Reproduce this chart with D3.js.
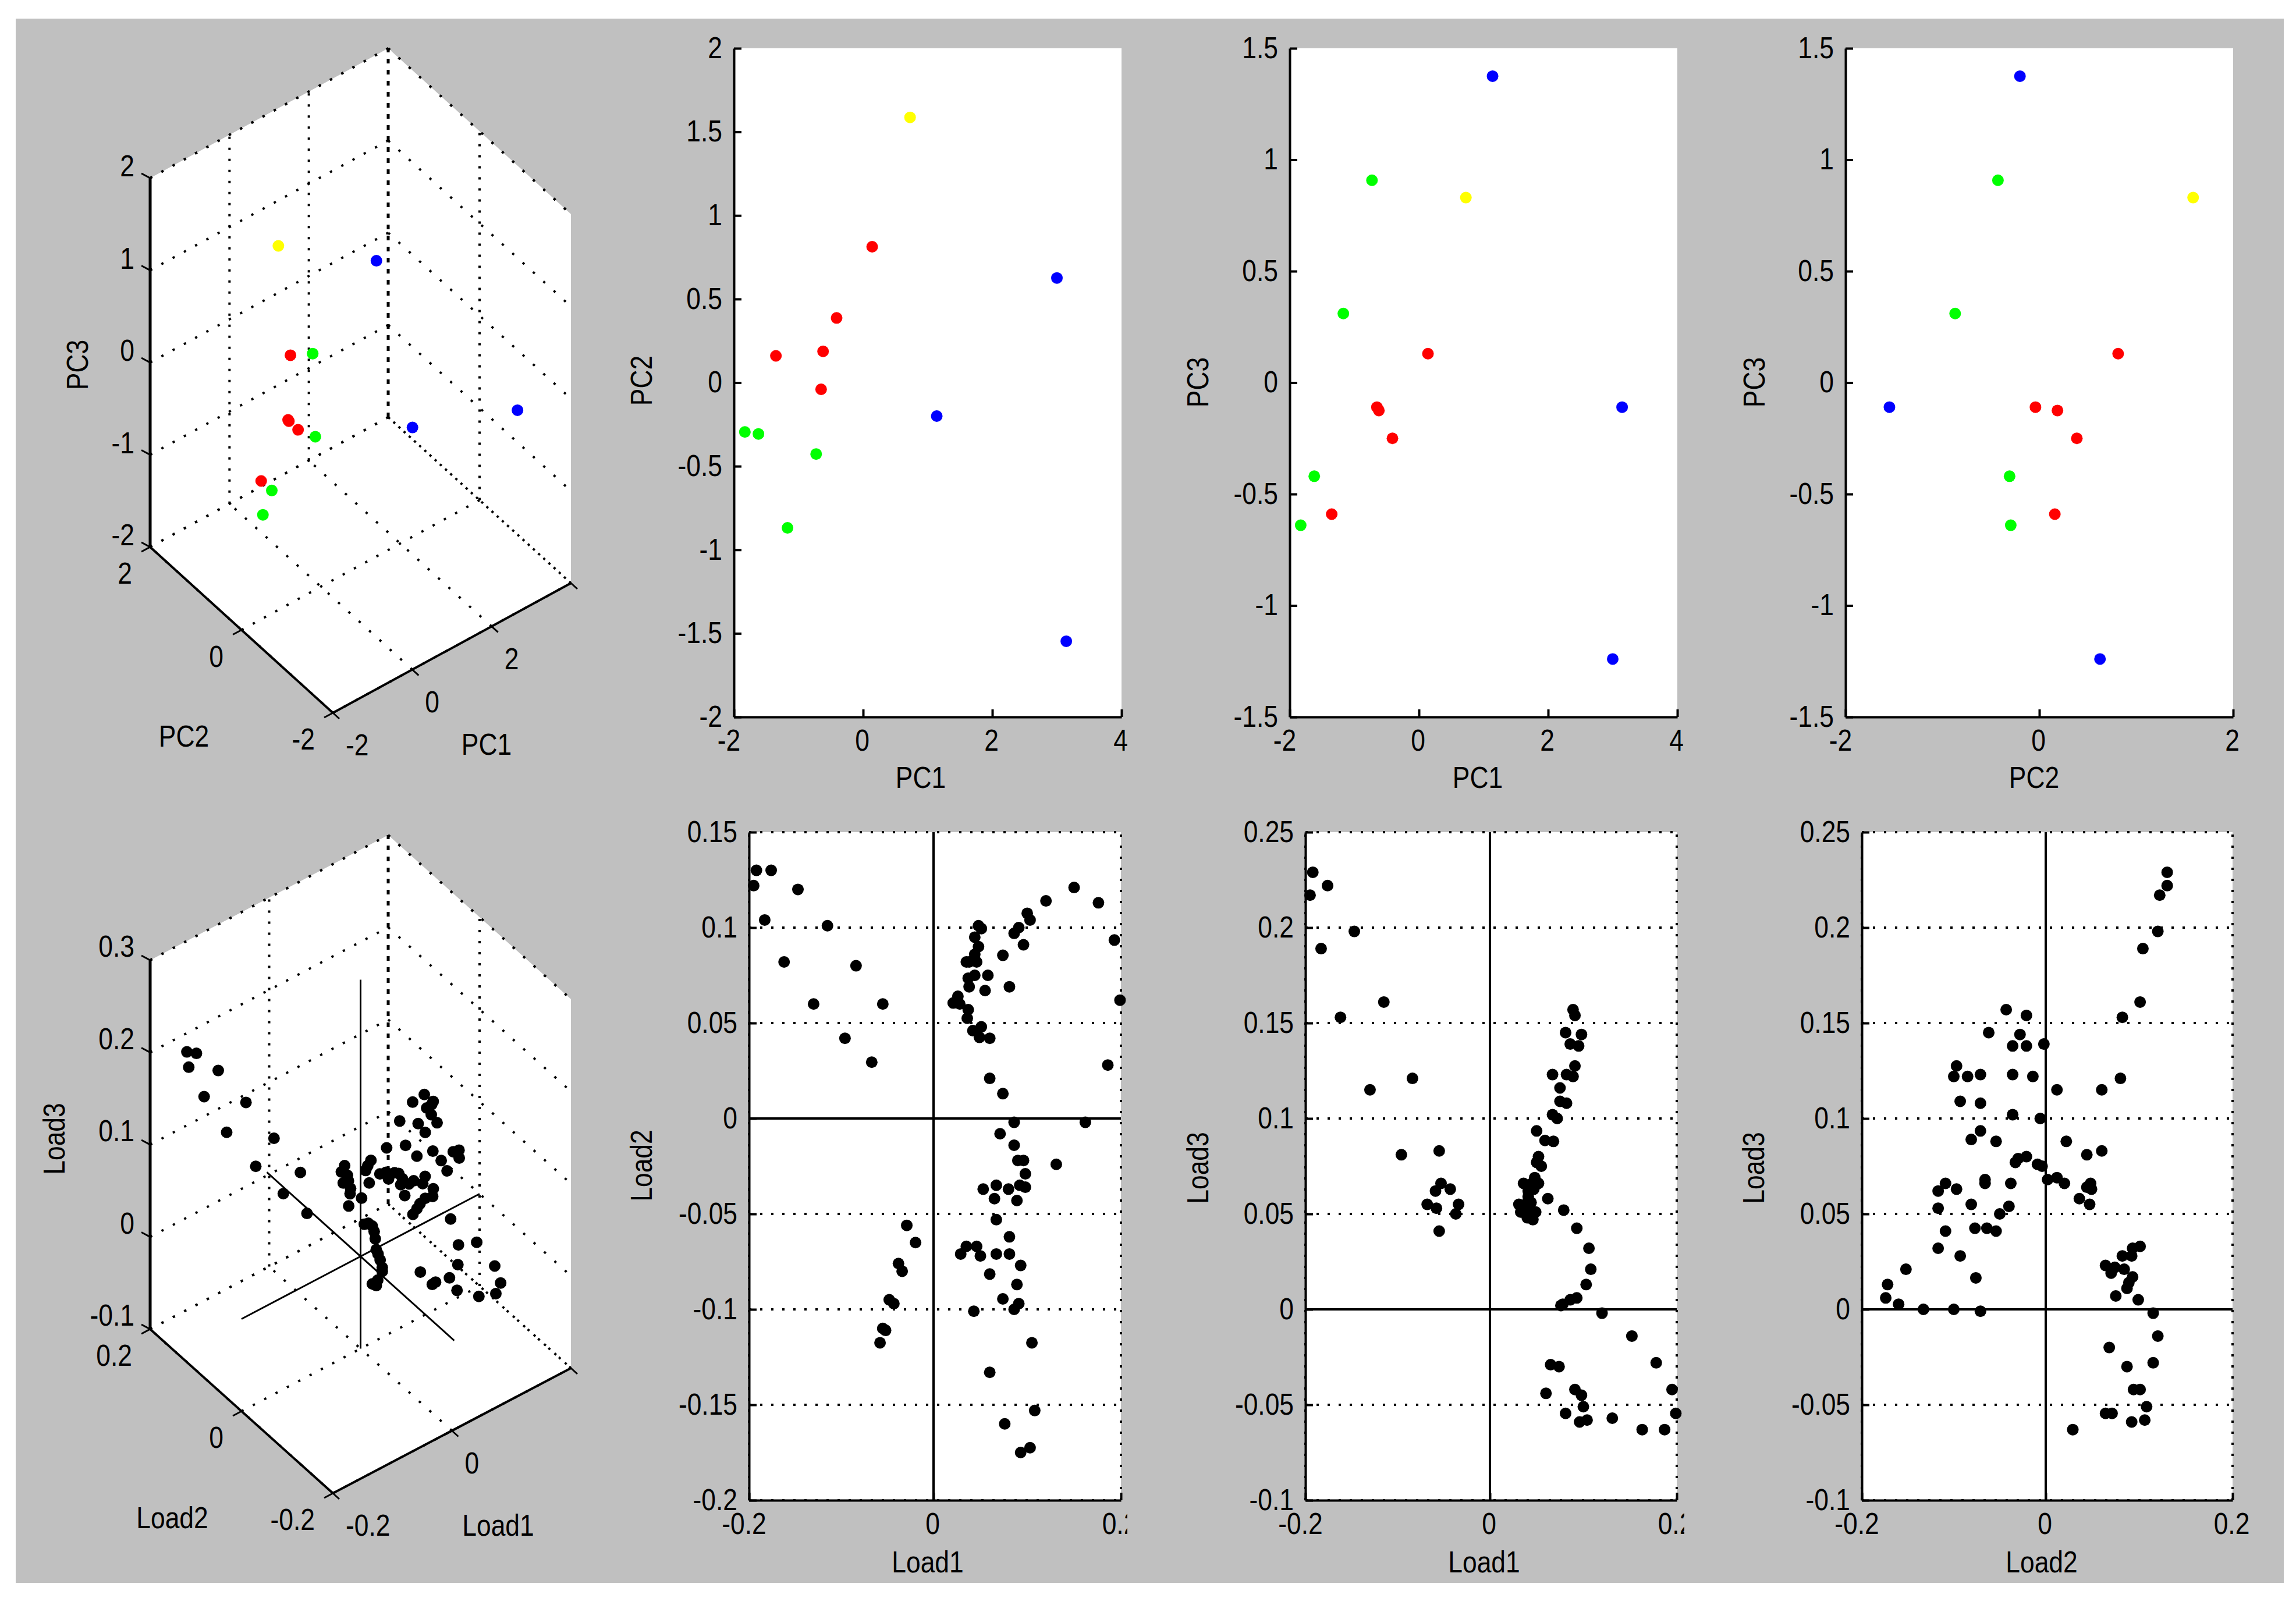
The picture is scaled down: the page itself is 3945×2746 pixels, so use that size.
<!DOCTYPE html>
<html>
<head>
<meta charset="utf-8">
<script src="https://cdn.jsdelivr.net/npm/d3@7"></script>
<style>
  html, body { margin: 0; padding: 0; background: #fff; }
  text { font-family: "Liberation Sans", Arial, sans-serif; font-size: 51px; fill: #000; }
</style>
</head>
<body>
<div id="chart"></div>
<script>
// scores, one entry per sample
const pc1 = [0.727, 0.14, -0.41, -0.62, -0.65, -1.35, -1.83, -1.62, -0.727, -1.17, 3.0, 1.14, 3.145];
const pc2 = [1.587, 0.813, 0.387, 0.187, -0.04, 0.16, -0.295, -0.307, -0.427, -0.869, 0.626, -0.2, -1.547];
const pc3 = [0.83, 0.13, -0.25, -0.125, -0.11, -0.59, -0.64, -0.42, 0.908, 0.31, -1.24, 1.375, -0.11];
const pcColors = ["#ffff00", "#ff0000", "#ff0000", "#ff0000", "#ff0000", "#ff0000", "#00ff00", "#00ff00", "#00ff00", "#00ff00", "#0000ff", "#0000ff", "#0000ff"];

// loadings
const load1Load2 = [
  [-0.192, 0.13], [-0.176, 0.13], [-0.195, 0.122], [-0.147, 0.12], [-0.183, 0.104], [-0.115, 0.101], [-0.162, 0.082],
  [-0.084, 0.08], [-0.13, 0.06], [-0.096, 0.042], [-0.055, 0.06], [-0.067, 0.0295], [-0.029, -0.056], [-0.0195, -0.065],
  [-0.038, -0.076], [-0.034, -0.08], [-0.048, -0.095], [-0.043, -0.097], [-0.055, -0.11], [-0.052, -0.111], [-0.058, -0.1175],
  [0.048, 0.101], [0.051, 0.0995], [0.086, 0.097], [0.091, 0.1], [0.1, 0.1075], [0.103, 0.104], [0.12, 0.114], [0.15, 0.121],
  [0.176, 0.113], [0.193, 0.0935], [0.199, 0.062], [0.186, 0.028], [0.096, 0.091], [0.074, 0.0855], [0.044, 0.095], [0.048, 0.09],
  [0.044, 0.086], [0.038, 0.082], [0.035, 0.082], [0.046, 0.082], [0.037, 0.0735], [0.044, 0.075], [0.058, 0.075], [0.038, 0.069],
  [0.055, 0.067], [0.081, 0.069], [0.026, 0.064], [0.021, 0.0605], [0.028, 0.06], [0.037, 0.057], [0.036, 0.0525], [0.051, 0.048],
  [0.042, 0.046], [0.049, 0.0425], [0.06, 0.042], [0.06, 0.021], [0.074, 0.013], [0.086, -0.002], [0.162, -0.002], [0.071, -0.008],
  [0.086, -0.014], [0.09, -0.022], [0.096, -0.022], [0.098, -0.029], [0.131, -0.024], [0.053, -0.037], [0.067, -0.035], [0.08, -0.037],
  [0.092, -0.035], [0.098, -0.036], [0.065, -0.042], [0.089, -0.043], [0.067, -0.053], [0.081, -0.062], [0.035, -0.067], [0.046, -0.067],
  [0.029, -0.071], [0.05, -0.072], [0.067, -0.071], [0.081, -0.071], [0.093, -0.077], [0.06, -0.0815], [0.089, -0.087], [0.074, -0.0945],
  [0.091, -0.097], [0.086, -0.1], [0.043, -0.101], [0.105, -0.1175], [0.06, -0.133], [0.108, -0.153], [0.076, -0.16], [0.093, -0.175], [0.103, -0.1725],
];
const load1Load3 = [
  [-0.192, 0.229], [-0.176, 0.222], [-0.195, 0.217], [-0.147, 0.198], [-0.183, 0.189], [-0.115, 0.161], [-0.162, 0.153], [-0.084, 0.121],
  [-0.13, 0.115], [-0.096, 0.081], [-0.055, 0.083], [-0.053, 0.066], [-0.059, 0.062], [-0.043, 0.063], [-0.068, 0.055], [-0.058, 0.053],
  [-0.034, 0.055], [-0.037, 0.05], [-0.055, 0.041], [0.089, 0.157], [0.091, 0.154], [0.081, 0.145], [0.098, 0.144], [0.086, 0.139],
  [0.095, 0.138], [0.091, 0.1275], [0.067, 0.123], [0.082, 0.123], [0.089, 0.122], [0.075, 0.116], [0.075, 0.109], [0.082, 0.108],
  [0.067, 0.102], [0.072, 0.1], [0.05, 0.0935], [0.059, 0.0885], [0.068, 0.088], [0.052, 0.08], [0.05, 0.077], [0.055, 0.075], [0.048, 0.069],
  [0.036, 0.066], [0.045, 0.066], [0.052, 0.066], [0.041, 0.062], [0.047, 0.063], [0.041, 0.059], [0.031, 0.055], [0.038, 0.055], [0.044, 0.056],
  [0.033, 0.051], [0.041, 0.051], [0.049, 0.051], [0.046, 0.047], [0.04, 0.048], [0.062, 0.058], [0.079, 0.052], [0.093, 0.0425], [0.106, 0.032],
  [0.108, 0.021], [0.103, 0.013], [0.093, 0.006], [0.086, 0.005], [0.078, 0.0027], [0.076, 0.002], [0.12, -0.002], [0.152, -0.014], [0.178, -0.028],
  [0.195, -0.042], [0.199, -0.0545], [0.187, -0.063], [0.163, -0.063], [0.131, -0.057], [0.104, -0.058], [0.096, -0.059], [0.1, -0.051], [0.081, -0.0545],
  [0.098, -0.045], [0.091, -0.042], [0.06, -0.044], [0.065, -0.029], [0.074, -0.03],
];
const load2Load3 = [
  [0.13, 0.229], [0.13, 0.222], [0.122, 0.217], [0.12, 0.198], [0.104, 0.189], [0.101, 0.161], [0.082, 0.153], [0.08, 0.121], [0.06, 0.115],
  [0.044, 0.081], [0.06, 0.083], [0.048, 0.066], [0.044, 0.064], [0.049, 0.063], [0.036, 0.058], [0.047, 0.055], [0.022, 0.088], [0.012, 0.115],
  [-0.006, 0.1], [-0.002, 0.139], [-0.014, 0.122], [-0.043, 0.157], [-0.021, 0.154], [-0.062, 0.145], [-0.028, 0.144], [-0.036, 0.138], [-0.021, 0.138],
  [-0.097, 0.1275], [-0.1, 0.122], [-0.085, 0.122], [-0.071, 0.123], [-0.036, 0.123], [-0.093, 0.109], [-0.071, 0.108], [-0.036, 0.102], [-0.071, 0.0935],
  [-0.081, 0.089], [-0.054, 0.088], [-0.033, 0.077], [-0.03, 0.079], [-0.021, 0.08], [-0.009, 0.076], [-0.004, 0.075], [-0.066, 0.068], [-0.066, 0.066],
  [-0.038, 0.066], [0.002, 0.068], [0.012, 0.069], [0.02, 0.066], [-0.117, 0.062], [-0.109, 0.066], [-0.097, 0.063], [-0.081, 0.055], [-0.117, 0.053],
  [-0.04, 0.054], [-0.05, 0.05], [-0.077, 0.0425], [-0.064, 0.0425], [-0.054, 0.041], [-0.109, 0.041], [-0.117, 0.032], [-0.093, 0.028], [-0.076, 0.0165],
  [-0.152, 0.021], [-0.172, 0.013], [-0.174, 0.006], [-0.16, 0.0027], [-0.133, 0], [-0.1, 0], [-0.071, -0.001], [0.064, 0.023], [0.07, 0.019], [0.074, 0.022],
  [0.084, 0.021], [0.093, 0.017], [0.089, 0.014], [0.087, 0.011], [0.075, 0.007], [0.099, 0.005], [0.082, 0.028], [0.092, 0.028], [0.093, 0.032], [0.101, 0.033],
  [0.115, -0.002], [0.12, -0.014], [0.068, -0.02], [0.087, -0.03], [0.115, -0.028], [0.094, -0.042], [0.101, -0.042], [0.108, -0.051], [0.064, -0.0545],
  [0.071, -0.0545], [0.092, -0.059], [0.106, -0.058], [0.029, -0.063],
];
const loadTriples = [
  [-0.192, 0.13, 0.229], [-0.176, 0.13, 0.222], [-0.195, 0.122, 0.217], [-0.147, 0.12, 0.198], [-0.183, 0.104, 0.189], [-0.115, 0.101, 0.161],
  [-0.162, 0.082, 0.153], [-0.084, 0.08, 0.121], [-0.13, 0.06, 0.115], [-0.096, 0.044, 0.081], [-0.055, 0.06, 0.083], [-0.067, 0.03, 0.056],
  [0.089, -0.043, 0.157], [0.091, -0.021, 0.154], [0.081, -0.062, 0.145], [0.098, -0.028, 0.144], [0.086, -0.002, 0.139], [0.095, -0.021, 0.138],
  [0.092, -0.035, 0.138], [0.091, -0.097, 0.1275], [0.067, -0.071, 0.123], [0.081, -0.036, 0.123], [0.089, -0.1, 0.121], [0.089, -0.087, 0.122],
  [0.086, -0.014, 0.121], [0.075, 0.012, 0.116], [0.074, -0.093, 0.109], [0.081, -0.071, 0.108], [0.067, -0.036, 0.102], [0.071, -0.006, 0.099],
  [0.05, -0.071, 0.0935], [0.06, -0.081, 0.089], [0.067, -0.054, 0.088], [0.06, 0.021, 0.088], [0.053, -0.037, 0.077],
  [-0.032, -0.05, 0.068], [-0.03, -0.056, 0.071], [-0.028, -0.062, 0.07], [-0.027, -0.065, 0.065], [-0.029, -0.07, 0.06], [-0.032, -0.076, 0.052],
  [-0.032, -0.08, 0.049], [-0.04, -0.095, 0.052], [-0.038, -0.097, 0.044], [-0.048, -0.11, 0.049], [-0.061, -0.117, 0.047], [-0.068, -0.117, 0.045],
  [-0.058, -0.11, 0.037], [-0.057, -0.1, 0.034],
  [0.05, 0.1, 0.037], [0.0445, 0.1, 0.032], [0.047, 0.09, 0.032], [0.04, 0.09, 0.026], [0.041, 0.08, 0.0325], [0.04, 0.075, 0.021], [0.03, 0.065, 0.0156], [0.037, 0.07, 0.03],
  [0.0558, 0.05, 0.063], [0.0505, 0.05, 0.059], [0.047, 0.05, 0.055], [0.0506, 0.047, 0.0416], [0.034, 0.042, 0.033],
  [0.036, -0.009, 0.083], [0.061, -0.004, 0.071], [0.0485, 0.002, 0.0666], [0.055, -0.02, 0.0745], [0.0445, -0.03, 0.076], [0.0436, -0.04, 0.069],
  [0.05, -0.065, 0.069], [0.044, -0.066, 0.066], [0.0366, -0.067, 0.063], [0.051, -0.075, 0.079],
  [0.12, 0.114, -0.002], [0.15, 0.121, -0.014], [0.176, 0.113, -0.028], [0.193, 0.0935, -0.042], [0.199, 0.062, -0.0545], [0.186, 0.028, -0.063],
  [0.162, -0.002, -0.063], [0.131, -0.024, -0.057], [0.108, -0.153, 0.021], [0.103, -0.1725, 0.013], [0.093, -0.175, 0.006], [0.076, -0.16, 0.002],
  [0.105, -0.1175, 0.032], [0.06, -0.133, 0.002], [0.043, -0.101, 0], [0.047, -0.103, 0.002], [0.046, -0.071, -0.001],
];

// tick labels
const pcTicksWide = [-2, 0, 2, 4];
const pcTicksNarrow = [-2, 0, 2];
const pc2Ticks = [-2, -1.5, -1, -0.5, 0, 0.5, 1, 1.5, 2];
const pc3Ticks = [-1.5, -1, -0.5, 0, 0.5, 1, 1.5];
const pcZTicks = [-2, -1, 0, 1, 2];
const loadXTicks = [-0.2, 0, 0.2];
const load2Ticks = [-0.2, -0.15, -0.1, -0.05, 0, 0.05, 0.1, 0.15];
const load3Ticks = [-0.1, -0.05, 0, 0.05, 0.1, 0.15, 0.2, 0.25];
const loadZTicks = [-0.1, 0, 0.1, 0.2, 0.3];

const width = 3945;
const height = 2746;
const squeeze = 0.87; // bitmap font in the original is narrower than Liberation

const svg = d3
  .select("#chart")
  .append("svg")
  .attr("width", width)
  .attr("height", height)
  .attr("viewBox", [0, 0, width, height]);

svg.append("rect").attr("x", 27).attr("y", 32).attr("width", 3897).attr("height", 2688).attr("fill", "#c0c0c0");

const label = (parent, str, x, y, anchor = "middle", rotate = 0) => {
  parent
    .append("text")
    .text(str)
    .attr("text-anchor", anchor)
    .attr("dy", "0.36em")
    .attr("transform", `translate(${x},${y}) rotate(${rotate}) scale(${squeeze},1)`);
};

let clipCount = 0;

const drawPanel = (cfg) => {
  const x = d3.scaleLinear().domain(cfg.xDomain).range(cfg.xRange);
  const y = d3.scaleLinear().domain(cfg.yDomain).range(cfg.yRange);
  const left = cfg.xRange[0];
  const right = cfg.xRange[cfg.xRange.length - 1];

  const panel = svg.append("g");
  if (cfg.clipRight) {
    clipCount += 1;
    svg.append("clipPath").attr("id", `clip${clipCount}`).append("rect").attr("x", 0).attr("y", 0).attr("width", cfg.clipRight).attr("height", height);
    panel.attr("clip-path", `url(#clip${clipCount})`);
  }

  panel
    .append("rect")
    .attr("x", left)
    .attr("y", y.range()[1])
    .attr("width", right - left)
    .attr("height", y.range()[0] - y.range()[1])
    .attr("fill", "#fff");

  if (cfg.grid) {
    const dotted = panel.append("g").attr("stroke", "#000").attr("stroke-width", 4).attr("stroke-dasharray", "4 15");
    dotted
      .selectAll(".h")
      .data(cfg.yTicks)
      .join("line")
      .attr("x1", left)
      .attr("x2", right)
      .attr("y1", (d) => y(d))
      .attr("y2", (d) => y(d));
    dotted
      .selectAll(".v")
      .data(cfg.xTicks)
      .join("line")
      .attr("x1", (d) => x(d))
      .attr("x2", (d) => x(d))
      .attr("y1", y.range()[0])
      .attr("y2", y.range()[1]);
    // solid cross through the origin
    panel.append("line").attr("x1", left).attr("x2", right).attr("y1", y(0)).attr("y2", y(0)).attr("stroke", "#000").attr("stroke-width", 4);
    panel.append("line").attr("x1", x(0)).attr("x2", x(0)).attr("y1", y.range()[0]).attr("y2", y.range()[1]).attr("stroke", "#000").attr("stroke-width", 4);
  }

  const yAxis = d3.axisLeft(y).tickValues(cfg.yTicks).tickSizeInner(-13).tickSizeOuter(0).tickPadding(20).tickFormat((d) => String(d));
  const xAxis = d3.axisBottom(x).tickValues(cfg.xTicks).tickSizeInner(-13).tickSizeOuter(0).tickPadding(22).tickFormat((d) => String(d));

  const yG = panel.append("g").attr("transform", `translate(${left},0)`).call(yAxis);
  const xG = panel.append("g").attr("transform", `translate(0,${y.range()[0]})`).call(xAxis);
  [yG, xG].forEach((g) => {
    g.attr("font-size", null).attr("font-family", null);
    g.selectAll("path, line").attr("stroke", "#000").attr("stroke-width", 4);
  });
  yG.selectAll("text").attr("x", -20 / squeeze).attr("transform", `scale(${squeeze},1)`);
  // the original centres negative x labels a little to the left of their tick
  xG.selectAll("text")
    .attr("x", (d) => (d < 0 ? -9 : -2) / squeeze)
    .attr("transform", `scale(${squeeze},1)`);

  panel
    .append("g")
    .selectAll("circle")
    .data(cfg.points)
    .join("circle")
    .attr("cx", (d) => x(d[0]))
    .attr("cy", (d) => y(d[1]))
    .attr("r", 10)
    .attr("fill", (d, i) => (cfg.colors ? cfg.colors[i] : "#000"));

  label(panel, cfg.xLabel, cfg.xLabelPos[0], cfg.xLabelPos[1]);
  label(panel, cfg.yLabel, cfg.yLabelPos[0], cfg.yLabelPos[1], "middle", -90);
};

const drawCube = (cfg) => {
  const tx = d3.scaleLinear().domain(cfg.xDomain).range([0, 1]);
  const ty = d3.scaleLinear().domain(cfg.yDomain).range([0, 1]);
  const tz = d3.scaleLinear().domain(cfg.zDomain).range([0, 1]);
  const project = (a, b, c) => [
    cfg.corner[0] + tx(a) * cfg.xVec[0] + ty(b) * cfg.yVec[0] + tz(c) * cfg.zVec[0],
    cfg.corner[1] + tx(a) * cfg.xVec[1] + ty(b) * cfg.yVec[1] + tz(c) * cfg.zVec[1],
  ];
  const [xMin, xMax] = cfg.xDomain;
  const [yMin, yMax] = cfg.yDomain;
  const [zMin, zMax] = cfg.zDomain;
  const shift = cfg.markerShift || [0, 0];

  const panel = svg.append("g");
  const hull = [
    project(xMin, yMin, zMin),
    project(xMax, yMin, zMin),
    project(xMax, yMin, zMax),
    project(xMax, yMax, zMax),
    project(xMin, yMax, zMax),
    project(xMin, yMax, zMin),
  ];
  panel.append("polygon").attr("points", hull.map((p) => p.join(",")).join(" ")).attr("fill", "#fff");

  const segment = (parent, p, q, dash, w) => {
    parent
      .append("line")
      .attr("x1", p[0])
      .attr("y1", p[1])
      .attr("x2", q[0])
      .attr("y2", q[1])
      .attr("stroke", "#000")
      .attr("stroke-width", w)
      .attr("stroke-dasharray", dash);
  };

  const grid = panel.append("g");
  cfg.zTicks.forEach((c) => {
    segment(grid, project(xMin, yMax, c), project(xMax, yMax, c), "4 18", 4);
    segment(grid, project(xMax, yMax, c), project(xMax, yMin, c), "4 20", 4);
  });
  cfg.xGrid.forEach((a) => {
    if (a !== xMin && a !== xMax) segment(grid, project(a, yMax, zMin), project(a, yMax, zMax), "4 15", 4);
    segment(grid, project(a, yMin, zMin), project(a, yMax, zMin), "4 20", 4);
  });
  cfg.yGrid.forEach((b) => {
    if (b !== yMin && b !== yMax) segment(grid, project(xMax, b, zMin), project(xMax, b, zMax), "4 15", 4);
    segment(grid, project(xMin, b, zMin), project(xMax, b, zMin), "4 18", 4);
  });
  // top edges and the back corner
  segment(grid, project(xMin, yMax, zMax), project(xMax, yMax, zMax), "4 18", 4);
  segment(grid, project(xMax, yMax, zMax), project(xMax, yMin, zMax), "4 20", 4);
  segment(grid, project(xMax, yMax, zMin), project(xMax, yMax, zMax), "8 11", 5);

  // solid axes
  segment(panel, project(xMin, yMax, zMin), project(xMin, yMax, zMax), null, 5);
  segment(panel, project(xMin, yMax, zMin), project(xMin, yMin, zMin), null, 4);
  segment(panel, project(xMin, yMin, zMin), project(xMax, yMin, zMin), null, 4);

  // tick marks and tick labels
  cfg.zTicks.forEach((c) => {
    const p = project(xMin, yMax, c);
    segment(panel, p, [p[0] - 15, p[1] - 8], null, 3);
    label(panel, String(c), p[0] - 27, p[1] - cfg.zLabelLift, "end");
  });
  cfg.yGrid.forEach((b) => {
    const p = project(xMin, b, zMin);
    segment(panel, p, [p[0] - 15, p[1] + 8], null, 3);
    label(panel, String(b), p[0] - 31, p[1] + 45, "end");
  });
  cfg.xGrid.forEach((a) => {
    const p = project(a, yMin, zMin);
    segment(panel, p, [p[0] + 11, p[1] + 10], null, 3);
    if (cfg.xTicks.includes(a)) label(panel, String(a), p[0] + 22, p[1] + 55, "start");
  });

  if (cfg.originLines) {
    const e = cfg.originLines;
    segment(panel, project(xMin, 0, 0), project(xMax, 0, 0), null, 3);
    segment(panel, project(0, e, 0), project(0, -e, 0), null, 3);
    segment(panel, project(0, 0, zMin), project(0, 0, zMax), null, 3);
  }

  panel
    .append("g")
    .selectAll("circle")
    .data(cfg.points)
    .join("circle")
    .attr("cx", (d) => project(d[0], d[1], d[2])[0] + shift[0])
    .attr("cy", (d) => project(d[0], d[1], d[2])[1] + shift[1])
    .attr("r", 10)
    .attr("fill", (d, i) => (cfg.colors ? cfg.colors[i] : "#000"));

  label(panel, cfg.xLabel, cfg.xLabelPos[0], cfg.xLabelPos[1]);
  label(panel, cfg.yLabel, cfg.yLabelPos[0], cfg.yLabelPos[1]);
  label(panel, cfg.zLabel, cfg.zLabelPos[0], cfg.zLabelPos[1], "middle", -90);
};

const topY = [1232, 83];
const bottomY = [2578, 1430];

drawCube({
  points: d3.zip(pc1, pc2, pc3),
  colors: pcColors,
  corner: [572, 1225],
  xVec: [409, -223],
  yVec: [-314, -285],
  zVec: [0, -634],
  xDomain: [-2, 4],
  yDomain: [-2, 2],
  zDomain: [-2, 2],
  xGrid: pcTicksWide,
  xTicks: pcTicksNarrow,
  yGrid: pcTicksNarrow,
  zTicks: pcZTicks,
  zLabelLift: 21,
  markerShift: [2, 3],
  xLabel: "PC1",
  xLabelPos: [836, 1279],
  yLabel: "PC2",
  yLabelPos: [316, 1265],
  zLabel: "PC3",
  zLabelPos: [133, 627],
});

drawPanel({
  points: d3.zip(pc1, pc2),
  colors: pcColors,
  xDomain: [-2, 4],
  xRange: [1261, 1927],
  yDomain: [-2, 2],
  yRange: topY,
  xTicks: pcTicksWide,
  yTicks: pc2Ticks,
  xLabel: "PC1",
  xLabelPos: [1582, 1336],
  yLabel: "PC2",
  yLabelPos: [1102, 654],
});

drawPanel({
  points: d3.zip(pc1, pc3),
  colors: pcColors,
  xDomain: [-2, 4],
  xRange: [2216, 2882],
  yDomain: [-1.5, 1.5],
  yRange: topY,
  xTicks: pcTicksWide,
  yTicks: pc3Ticks,
  xLabel: "PC1",
  xLabelPos: [2539, 1336],
  yLabel: "PC3",
  yLabelPos: [2058, 657],
});

drawPanel({
  points: d3.zip(pc2, pc3),
  colors: pcColors,
  xDomain: [-2, 2],
  xRange: [3171, 3837],
  yDomain: [-1.5, 1.5],
  yRange: topY,
  xTicks: pcTicksNarrow,
  yTicks: pc3Ticks,
  xLabel: "PC2",
  xLabelPos: [3495, 1336],
  yLabel: "PC3",
  yLabelPos: [3014, 657],
});

drawCube({
  points: loadTriples,
  corner: [572, 2566],
  xVec: [409, -215],
  yVec: [-314, -282],
  zVec: [0, -634],
  xDomain: [-0.2, 0.2],
  yDomain: [-0.2, 0.2],
  zDomain: [-0.1, 0.3],
  xGrid: loadXTicks,
  xTicks: [-0.2, 0],
  yGrid: loadXTicks,
  zTicks: loadZTicks,
  zLabelLift: 24,
  originLines: 0.205,
  xLabel: "Load1",
  xLabelPos: [856, 2621],
  yLabel: "Load2",
  yLabelPos: [296, 2608],
  zLabel: "Load3",
  zLabelPos: [93, 1957],
});

drawPanel({
  points: load1Load2,
  grid: true,
  clipRight: 1937,
  xDomain: [-0.2, 0, 0.2],
  xRange: [1287, 1604, 1926],
  yDomain: [-0.2, 0.15],
  yRange: bottomY,
  xTicks: loadXTicks,
  yTicks: load2Ticks,
  xLabel: "Load1",
  xLabelPos: [1594, 2684],
  yLabel: "Load2",
  yLabelPos: [1102, 2003],
});

drawPanel({
  points: load1Load3,
  grid: true,
  clipRight: 2894,
  xDomain: [-0.2, 0, 0.2],
  xRange: [2243, 2560, 2881],
  yDomain: [-0.1, 0.25],
  yRange: bottomY,
  xTicks: loadXTicks,
  yTicks: load3Ticks,
  xLabel: "Load1",
  xLabelPos: [2550, 2684],
  yLabel: "Load3",
  yLabelPos: [2058, 2007],
});

drawPanel({
  points: load2Load3,
  grid: true,
  xDomain: [-0.2, 0, 0.2],
  xRange: [3199, 3515, 3836],
  yDomain: [-0.1, 0.25],
  yRange: bottomY,
  xTicks: loadXTicks,
  yTicks: load3Ticks,
  xLabel: "Load2",
  xLabelPos: [3508, 2684],
  yLabel: "Load3",
  yLabelPos: [3013, 2007],
});
</script>
</body>
</html>
